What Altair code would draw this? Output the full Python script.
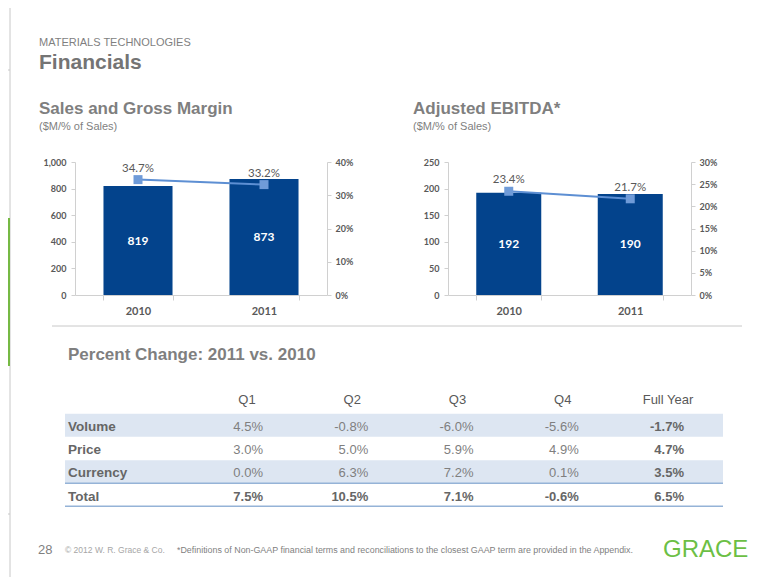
import altair as alt
import pandas as pd

# ---------------- data ----------------
years = ["2010", "2011"]
sales = [819, 873]
gross_margin = [0.347, 0.332]
ebitda = [192, 190]
ebitda_margin = [0.234, 0.217]

row_labels = ["Volume", "Price", "Currency", "Total"]
col_labels = ["Q1", "Q2", "Q3", "Q4", "Full Year"]
volume = [4.5, -0.8, -6.0, -5.6, -1.7]
price = [3.0, 5.0, 5.9, 4.9, 4.7]
currency = [0.0, 6.3, 7.2, 0.1, 3.5]
total = [7.5, 10.5, 7.1, -0.6, 6.5]

# ---------------- style ----------------
W, H = 764, 569
ARIAL = "Liberation Sans"
CAL = "Lato"
NAVY = "#03438c"
LINEC = "#5d8fd3"
MARKC = "#6f9bd8"
G1 = "#595959"
G2 = "#7f7f7f"
AXC = "#d0d0d0"
BASE_Y, TOP_Y = 287, 154

one = pd.DataFrame({"d": [0]})


def label(txt, x, y, size, color, weight="normal", font=ARIAL, align="left"):
    return alt.Chart(pd.DataFrame({"t": [txt]})).mark_text(
        align=align, baseline="middle", fontSize=size, font=font,
        fontWeight=weight, color=color
    ).encode(x=alt.value(x), y=alt.value(y), text="t:N")


def hline(x1, x2, y, color, w=1.0):
    return alt.Chart(one).mark_rule(color=color, strokeWidth=w).encode(
        x=alt.value(x1), x2=alt.value(x2), y=alt.value(y))


def vline(x, y1, y2, color, w=1.0):
    return alt.Chart(one).mark_rule(color=color, strokeWidth=w).encode(
        x=alt.value(x), y=alt.value(y1), y2=alt.value(y2))


def panel(values, pcts, x0, x1, pad, ymax, yvals, yfmt, pmax, pvals):
    df = pd.DataFrame({"year": years, "value": values, "pct": pcts})
    xs = alt.Scale(domain=years, range=[x0, x1], paddingInner=pad, paddingOuter=pad / 2)
    ys = alt.Scale(domain=[0, ymax], range=[BASE_Y, TOP_Y], nice=False, zero=True)
    ps = alt.Scale(domain=[0, pmax], range=[BASE_Y, TOP_Y], nice=False, zero=True)
    base = alt.Chart(df)
    xaxis = alt.Axis(orient="bottom", offset=BASE_Y - H, title=None, labelFont=CAL,
                     labelFontWeight="bold", labelFontSize=11, labelColor=G1,
                     labelPadding=5, tickSize=5, tickColor=AXC, domainColor=AXC,
                     tickBand="extent", labelAngle=0, grid=False)
    bars = base.mark_bar(color=NAVY).encode(
        x=alt.X("year:N", scale=xs, axis=xaxis),
        y=alt.Y("value:Q", scale=ys,
                axis=alt.Axis(orient="left", offset=-x0, values=yvals, format=yfmt,
                              title=None, labelFont=CAL, labelFontWeight="bold",
                              labelFontSize=9, labelColor=G1, tickSize=4,
                              tickColor=AXC, domainColor=AXC, labelPadding=5,
                              grid=False)),
    )
    blabels = base.transform_calculate(half="datum.value / 2").mark_text(
        color="white", font=CAL, fontWeight="bold", fontSize=12, baseline="middle"
    ).encode(
        x=alt.X("year:N", scale=xs, axis=None),
        y=alt.Y("half:Q", scale=ys, axis=None),
        text=alt.Text("value:Q", format="d"),
    )
    line = base.mark_line(color=LINEC, strokeWidth=2).encode(
        x=alt.X("year:N", scale=xs, axis=None),
        y=alt.Y("pct:Q", scale=ps,
                axis=alt.Axis(orient="right", offset=x1 - W, values=pvals, format=".0%",
                              title=None, labelFont=CAL, labelFontWeight="bold",
                              labelFontSize=9, labelColor=G1, tickSize=4,
                              tickColor=AXC, domainColor=AXC, labelPadding=4,
                              grid=False)),
    )
    pts = base.mark_point(shape="square", filled=True, size=81, color=MARKC, opacity=1).encode(
        x=alt.X("year:N", scale=xs, axis=None),
        y=alt.Y("pct:Q", scale=ps, axis=None),
    )
    plabels = base.mark_text(color=G1, font=CAL, fontSize=11.5, baseline="middle", dy=-11).encode(
        x=alt.X("year:N", scale=xs, axis=None),
        y=alt.Y("pct:Q", scale=ps, axis=None),
        text=alt.Text("pct:Q", format=".1%"),
    )
    return [bars, blabels, line, pts, plabels]


left = panel(sales, gross_margin, 67, 319, 0.452, 1000,
             [0, 200, 400, 600, 800, 1000], ",.0f", 0.4, [0, 0.1, 0.2, 0.3, 0.4])
right = panel(ebitda, ebitda_margin, 440, 683, 0.465, 250,
              [0, 50, 100, 150, 200, 250], "d", 0.3, [0, 0.05, 0.1, 0.15, 0.2, 0.25, 0.3])

# ---------------- table ----------------
recs = []
for r, vals in zip(row_labels, [volume, price, currency, total]):
    for c, v in zip(col_labels, vals):
        recs.append({"row": r, "col": c, "val": f"{v:.1f}%",
                     "bold": (r == "Total") or (c == "Full Year")})
t_df = pd.DataFrame(recs)
rows_df = pd.DataFrame({"row": row_labels})
cols_df = pd.DataFrame({"col": col_labels})

rscale = alt.Scale(type="point", domain=row_labels, range=[418.7, 488.7], padding=0)
cscale = alt.Scale(type="point", domain=col_labels, range=[239, 660], padding=0)

bands = alt.Chart(rows_df).transform_filter(
    "datum.row == 'Volume' || datum.row == 'Currency'"
).mark_rule(color="#dde6f2", strokeWidth=23, yOffset=-1.5).encode(
    x=alt.value(57), x2=alt.value(715),
    y=alt.Y("row:N", scale=rscale, axis=None),
)
tot_top = alt.Chart(rows_df).transform_filter("datum.row == 'Total'").mark_rule(
    color="#95b3d7", strokeWidth=1.5, yOffset=-13.5
).encode(x=alt.value(57), x2=alt.value(715), y=alt.Y("row:N", scale=rscale, axis=None))
tot_bot = alt.Chart(rows_df).transform_filter("datum.row == 'Total'").mark_rule(
    color="#95b3d7", strokeWidth=1.5, yOffset=9.5
).encode(x=alt.value(57), x2=alt.value(715), y=alt.Y("row:N", scale=rscale, axis=None))

heads = alt.Chart(cols_df).mark_text(font=ARIAL, fontSize=13, color=G1, baseline="middle").encode(
    x=alt.X("col:N", scale=cscale, axis=None), y=alt.value(392), text="col:N")
rlabs = alt.Chart(rows_df).mark_text(font=ARIAL, fontSize=13.5, fontWeight="bold", color="#666666",
                                     align="left", baseline="middle").encode(
    x=alt.value(60), y=alt.Y("row:N", scale=rscale, axis=None), text="row:N")
vals_reg = alt.Chart(t_df).transform_filter("!datum.bold").mark_text(
    font=ARIAL, fontSize=13, color=G2, align="right", baseline="middle", dx=16).encode(
    x=alt.X("col:N", scale=cscale, axis=None), y=alt.Y("row:N", scale=rscale, axis=None),
    text="val:N")
vals_bold = alt.Chart(t_df).transform_filter("datum.bold").mark_text(
    font=ARIAL, fontSize=13, fontWeight="bold", color="#666666", align="right",
    baseline="middle", dx=16).encode(
    x=alt.X("col:N", scale=cscale, axis=None), y=alt.Y("row:N", scale=rscale, axis=None),
    text="val:N")

# ---------------- decorations ----------------
deco = [
    vline(2, 0, H, "#c8c8c8"),
    hline(0, 2, 62, "#c8c8c8"),
    hline(0, 2, 506, "#c8c8c8"),
    alt.Chart(one).mark_rect(color="#76b944").encode(
        x=alt.value(0), x2=alt.value(2), y=alt.value(210), y2=alt.value(358)),
    label("MATERIALS TECHNOLOGIES", 31, 35, 11, G2),
    label("Financials", 31, 55, 21, "#747474", "bold"),
    label("Sales and Gross Margin", 31, 101, 17, G2, "bold"),
    label("($M/% of Sales)", 31, 118.5, 11, G2),
    label("Adjusted EBITDA*", 405, 101, 17, G2, "bold"),
    label("($M/% of Sales)", 405, 118.5, 11, G2),
    hline(44, 734, 318, "#c8c8c8"),
    label("Percent Change: 2011 vs. 2010", 60, 347, 17, G2, "bold"),
    label("28", 30, 542, 13, G2),
    label("\u00a9 2012 W. R. Grace & Co.", 57, 542, 8.5, "#a6a6a6"),
    label("*Definitions of Non-GAAP financial terms and reconciliations to the closest GAAP term are provided in the Appendix.",
          169, 542, 8.9, G2),
    label("GRACE", 655, 542, 24, "#6cbf45"),
]

chart = alt.layer(
    *deco, *left, *right, bands, tot_top, tot_bot, heads, rlabs, vals_reg, vals_bold
).resolve_scale(
    x="independent", y="independent"
).properties(
    width=W, height=H, autosize=alt.AutoSizeParams(type="none"), padding=0
).configure_view(stroke=None).configure_axis(grid=False)

chart.save("out.html", embed_options={"renderer": "svg", "actions": False})
